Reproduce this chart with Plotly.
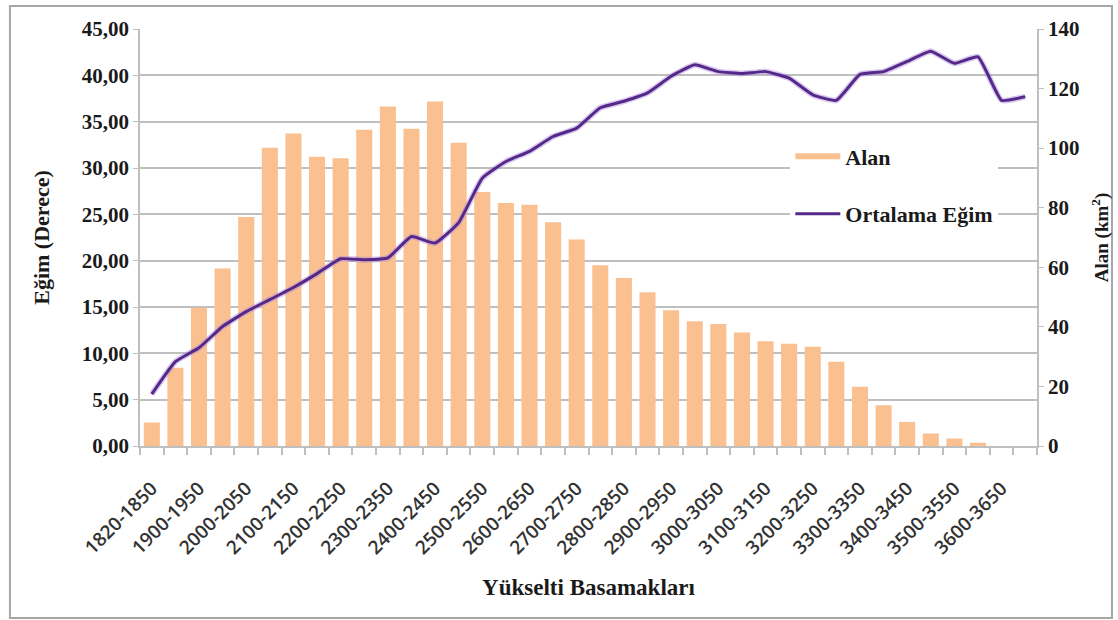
import plotly.graph_objects as go

SERIF = "Liberation Serif, Times New Roman, serif"
SANS = "Open Sans, sans-serif"
GRID = "#BFBFBF"
TEXT = "#1a1a1a"
BAR = "#FAC090"

kategoriler = [
    "1820-1850", "1850-1900", "1900-1950", "1950-2000", "2000-2050", "2050-2100",
    "2100-2150", "2150-2200", "2200-2250", "2250-2300", "2300-2350", "2350-2400",
    "2400-2450", "2450-2500", "2500-2550", "2550-2600", "2600-2650", "2650-2700",
    "2700-2750", "2750-2800", "2800-2850", "2850-2900", "2900-2950", "2950-3000",
    "3000-3050", "3050-3100", "3100-3150", "3150-3200", "3200-3250", "3250-3300",
    "3300-3350", "3350-3400", "3400-3450", "3450-3500", "3500-3550", "3550-3600",
    "3600-3650", "3650-3700",
]

# Alan (km2) - sağ eksen
alan = [
    7.9, 26.3, 46.4, 59.6, 76.9, 100.1, 104.9, 97.1, 96.6, 106.2,
    114.0, 106.5, 115.7, 101.8, 85.3, 81.6, 81.0, 75.1, 69.3, 60.7,
    56.4, 51.6, 45.6, 41.9, 41.0, 38.1, 35.2, 34.3, 33.3, 28.3,
    19.9, 13.7, 8.1, 4.2, 2.5, 1.1, 0, 0,
]

# Ortalama eğim (derece) - sol eksen
egim = [
    5.6, 9.1, 10.6, 12.9, 14.5, 15.8, 17.1, 18.6, 20.2, 20.1,
    20.3, 22.6, 21.9, 24.1, 28.9, 30.7, 31.8, 33.4, 34.3, 36.5,
    37.2, 38.1, 39.9, 41.15, 40.4, 40.2, 40.4, 39.7, 37.9, 37.3,
    40.1, 40.4, 41.5, 42.6, 41.3, 42.0, 37.3, 37.7,
]

idx = list(range(len(kategoriler)))

fig = go.Figure()

fig.add_trace(go.Bar(
    x=idx, y=alan, name="Alan", yaxis="y", showlegend=False,
    marker=dict(color=BAR, line=dict(width=0)),
))

# lejant için geniş dikdörtgen sembol
fig.add_trace(go.Scatter(
    x=[None], y=[None], name="Alan", yaxis="y", mode="none",
    fill="toself", fillcolor=BAR, legendgroup="a",
))

# hafif parlama
fig.add_trace(go.Scatter(
    x=idx, y=egim, yaxis="y2", mode="lines", showlegend=False,
    line=dict(color="rgba(170,140,220,0.45)", width=6, shape="spline", smoothing=0.4),
    hoverinfo="skip",
))
fig.add_trace(go.Scatter(
    x=idx, y=egim, name="Ortalama Eğim", yaxis="y2", mode="lines",
    line=dict(color="#56288A", width=3, shape="spline", smoothing=0.4),
    legendgroup="b",
))

fig.update_layout(
    width=1118, height=620,
    margin=dict(l=140, r=81, t=29, b=174),
    paper_bgcolor="white", plot_bgcolor="white",
    separators=",.",
    bargap=0.32,
    font=dict(family=SERIF, color=TEXT),
    legend=dict(
        x=0.725, y=0.745, xanchor="left", yanchor="top",
        bgcolor="white", borderwidth=0,
        font=dict(family=SERIF, size=22, color=TEXT, weight="bold"),
        tracegroupgap=26, itemwidth=45, traceorder="grouped",
    ),
    xaxis=dict(
        range=[-0.5, len(kategoriler) - 0.5],
        tickvals=idx[::2], ticktext=kategoriler[::2],
        tickangle=-45, ticks="", showgrid=False,
        showline=True, linecolor=GRID, linewidth=1.5,
        tickfont=dict(family=SANS, size=19, color="#333333", weight=600),
        ticklabelstandoff=22,
        minor=dict(tick0=-0.5, dtick=1, ticks="outside", ticklen=7,
                   tickcolor=GRID, tickwidth=1.5, showgrid=False),
        title=dict(text="Yükselti Basamakları", standoff=20,
                   font=dict(family=SERIF, size=23, color=TEXT, weight="bold")),
        automargin=False,
    ),
    yaxis=dict(
        side="right", range=[0, 140], dtick=20, showgrid=False,
        showline=True, linecolor=GRID, linewidth=1.5,
        ticks="outside", ticklen=5, tickcolor=GRID,
        tickfont=dict(family=SERIF, size=21, color=TEXT, weight="bold"),
        title=dict(text="Alan (km<sup>2</sup>)", standoff=16,
                   font=dict(family=SERIF, size=19, color=TEXT, weight="bold")),
        zeroline=False, automargin=False,
    ),
    yaxis2=dict(
        overlaying="y", side="left", range=[0, 45], dtick=5,
        tickformat=".2f", showgrid=True, gridcolor=GRID, gridwidth=1.5,
        showline=True, linecolor=GRID, linewidth=1.5,
        ticks="outside", ticklen=5, tickcolor=GRID,
        tickfont=dict(family=SERIF, size=21, color=TEXT, weight="bold"),
        title=dict(text="Eğim (Derece)", standoff=26,
                   font=dict(family=SERIF, size=22, color=TEXT, weight="bold")),
        zeroline=False, automargin=False,
    ),
)

# dış çerçeve
fig.add_shape(
    type="rect", xref="paper", yref="paper",
    x0=-0.145, x1=1.0836, y0=-0.4125, y1=1.055,
    line=dict(color="#A6A6A6", width=2), layer="below",
)

fig.write_html(
    "out.html",
    config={"displayModeBar": False},
    post_script="document.body.style.margin='0px';",
)
